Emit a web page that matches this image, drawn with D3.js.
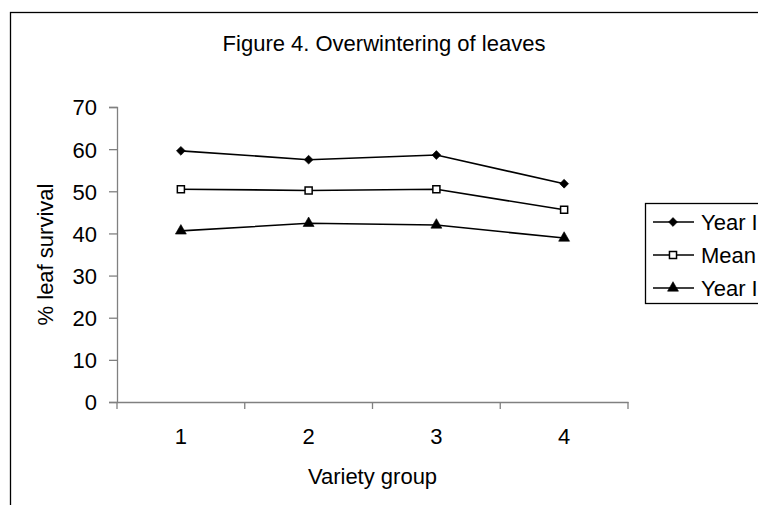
<!DOCTYPE html>
<html lang="en">
<head>
    <meta charset="UTF-8">
    <title>Figure 4. Overwintering of leaves</title>
    <script src="https://d3js.org/d3.v7.min.js"></script>
    <style>
        body { margin: 0; background: #fff; }
        svg { display: block; font-family: "Liberation Sans", Arial, sans-serif; }
    </style>
</head>
<body>
    <svg width="758" height="505"></svg>

    <script>
        // data
        const groups = ['1', '2', '3', '4'];
        const yearI = [59.6, 57.5, 58.6, 51.8];
        const mean = [50.5, 50.2, 50.5, 45.6];
        const yearII = [40.6, 42.4, 42.0, 38.9];
        const seriesNames = ['Year I', 'Mean', 'Year II'];
        const yTicks = [0, 10, 20, 30, 40, 50, 60, 70];

        const series = [
            { name: seriesNames[0], values: yearI, symbol: 'diamond' },
            { name: seriesNames[1], values: mean, symbol: 'square' },
            { name: seriesNames[2], values: yearII, symbol: 'triangle' }
        ];

        const svg = d3.select('svg');
        const fs = 22;

        // chart area frame (runs off the right and bottom edges)
        svg.append('rect')
            .attr('x', 10.5).attr('y', 12.5)
            .attr('width', 800).attr('height', 520)
            .attr('fill', 'none').attr('stroke', '#000').attr('stroke-width', 1.3);

        const plot = { left: 117, right: 628, top: 107, bottom: 402 };

        const x = d3.scaleBand().domain(groups).range([plot.left, plot.right]);
        const y = d3.scaleLinear().domain([0, 70]).range([plot.bottom, plot.top]);

        // axes
        const yAxis = svg.append('g')
            .attr('transform', `translate(${plot.left},0)`)
            .call(d3.axisLeft(y).tickValues(yTicks).tickSize(8).tickPadding(12));
        const xAxis = svg.append('g')
            .attr('transform', `translate(0,${plot.bottom})`)
            .call(d3.axisBottom(x).tickSize(0).tickPadding(26));

        // excel-style ticks between categories
        xAxis.selectAll('.bound')
            .data(groups.map(g => x(g)).concat([plot.right]))
            .join('line')
            .attr('x1', d => d).attr('x2', d => d)
            .attr('y1', 0).attr('y2', 7)
            .attr('stroke', '#808080').attr('stroke-width', 1.3);

        [yAxis, xAxis].forEach(a => {
            a.select('.domain').attr('stroke', '#808080').attr('stroke-width', 1.3);
            a.selectAll('.tick line').attr('stroke', '#808080').attr('stroke-width', 1.3);
            a.selectAll('.tick text').attr('fill', '#000').style('font-size', fs + 'px');
        });
        yAxis.selectAll('.tick text').attr('dy', '0.36em');

        const sym = {
            diamond: d3.symbol().type(d3.symbolDiamond2).size(50),
            square: d3.symbol().type(d3.symbolSquare).size(50),
            triangle: d3.symbol().type(d3.symbolTriangle).size(52)
        };

        const line = d3.line()
            .x((d, i) => x(groups[i]) + x.bandwidth() / 2)
            .y(d => y(d));

        function drawMarker(g, s) {
            g.append('path')
                .attr('d', sym[s.symbol]())
                .attr('fill', s.symbol === 'square' ? '#fff' : '#000')
                .attr('stroke', '#000')
                .attr('stroke-width', s.symbol === 'square' ? 1.5 : 0.6);
        }

        series.forEach(s => {
            svg.append('path')
                .datum(s.values)
                .attr('d', line)
                .attr('fill', 'none')
                .attr('stroke', '#000')
                .attr('stroke-width', 1.6);

            s.values.forEach((v, i) => {
                const g = svg.append('g')
                    .attr('transform', `translate(${x(groups[i]) + x.bandwidth() / 2},${y(v)})`);
                drawMarker(g, s);
            });
        });

        // titles
        svg.append('text')
            .attr('x', 384).attr('y', 51)
            .attr('text-anchor', 'middle')
            .style('font-size', fs + 'px')
            .text('Figure 4. Overwintering of leaves');

        svg.append('text')
            .attr('x', (plot.left + plot.right) / 2).attr('y', 484)
            .attr('text-anchor', 'middle')
            .style('font-size', fs + 'px')
            .text('Variety group');

        svg.append('text')
            .attr('transform', `translate(53,${(plot.top + plot.bottom) / 2}) rotate(-90)`)
            .attr('text-anchor', 'middle')
            .style('font-size', fs + 'px')
            .text('% leaf survival');

        // legend
        const legend = svg.append('g').attr('transform', 'translate(645,203)');
        legend.append('rect')
            .attr('x', 0.5).attr('y', 0.5)
            .attr('width', 140).attr('height', 100)
            .attr('fill', '#fff').attr('stroke', '#000').attr('stroke-width', 1.3);

        const item = legend.selectAll('.item')
            .data(series)
            .join('g')
            .attr('class', 'item')
            .attr('transform', (d, i) => `translate(0,${19 + i * 33})`);

        item.append('line')
            .attr('x1', 8).attr('x2', 49)
            .attr('stroke', '#000').attr('stroke-width', 1.6);
        item.append('g')
            .attr('transform', 'translate(28,0)')
            .each(function (d) { drawMarker(d3.select(this), d); });
        item.append('text')
            .attr('x', 56).attr('dy', '0.36em')
            .style('font-size', fs + 'px')
            .text(d => d.name);
    </script>
</body>
</html>
